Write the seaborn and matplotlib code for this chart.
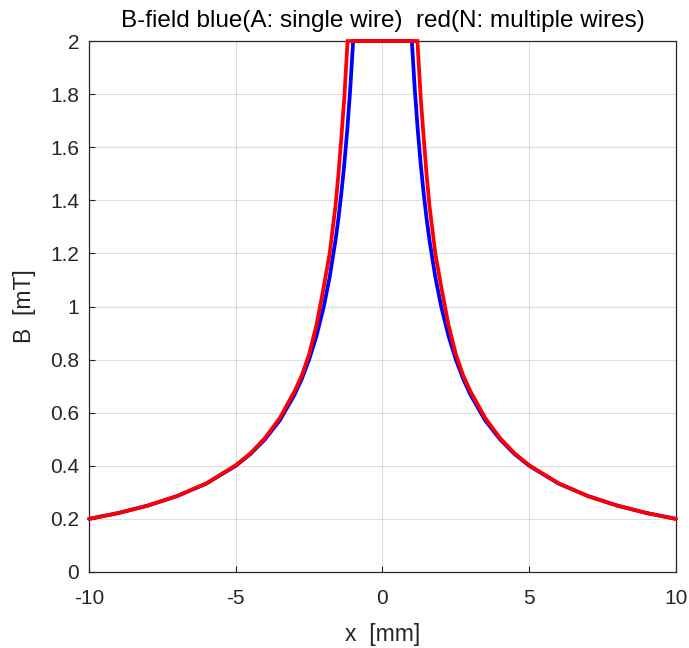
import matplotlib
matplotlib.use("Agg")
import matplotlib.pyplot as plt
import seaborn as sns
import pandas as pd

# Values
x_blue = [-10, -9, -8, -7, -6, -5, -4.5, -4, -3.5, -3, -2.75, -2.5, -2.25, -2, -1.8, -1.6, -1.5, -1.4, -1.3, -1.2, -1.1, -1.0,
          0,
          1.0, 1.1, 1.2, 1.3, 1.4, 1.5, 1.6, 1.8, 2, 2.25, 2.5, 2.75, 3, 3.5, 4, 4.5, 5, 6, 7, 8, 9, 10]
b_blue = [0.2, 0.222, 0.25, 0.286, 0.333, 0.4, 0.444, 0.5, 0.571, 0.667, 0.727, 0.8, 0.889, 1.0, 1.111, 1.25, 1.333, 1.429, 1.538, 1.667, 1.818, 2.0,
          2.0,
          2.0, 1.818, 1.667, 1.538, 1.429, 1.333, 1.25, 1.111, 1.0, 0.889, 0.8, 0.727, 0.667, 0.571, 0.5, 0.444, 0.4, 0.333, 0.286, 0.25, 0.222, 0.2]

x_red = [-10, -9, -8, -7, -6, -5, -4.5, -4, -3.5, -3, -2.75, -2.5, -2.25, -2, -1.8, -1.6, -1.5, -1.4, -1.3, -1.19,
         0,
         1.19, 1.3, 1.4, 1.5, 1.6, 1.8, 2, 2.25, 2.5, 2.75, 3, 3.5, 4, 4.5, 5, 6, 7, 8, 9, 10]
b_red = [0.2, 0.222, 0.25, 0.286, 0.334, 0.402, 0.447, 0.505, 0.58, 0.68, 0.74, 0.82, 0.93, 1.075, 1.2, 1.38, 1.5, 1.64, 1.79, 2.0,
         2.0,
         2.0, 1.79, 1.64, 1.5, 1.38, 1.2, 1.075, 0.93, 0.82, 0.74, 0.68, 0.58, 0.505, 0.447, 0.402, 0.334, 0.286, 0.25, 0.222, 0.2]

x_ticks = [-10, -5, 0, 5, 10]
y_ticks = [0, 0.2, 0.4, 0.6, 0.8, 1.0, 1.2, 1.4, 1.6, 1.8, 2.0]
y_ticklabels = ["0", "0.2", "0.4", "0.6", "0.8", "1", "1.2", "1.4", "1.6", "1.8", "2"]

title = "B-field blue(A: single wire)  red(N: multiple wires)"

df = pd.concat([
    pd.DataFrame({"x": x_blue, "B": b_blue, "s": "A"}),
    pd.DataFrame({"x": x_red, "B": b_red, "s": "N"}),
], ignore_index=True)

sns.set_theme(style="white")
plt.rcParams["font.family"] = ["Liberation Sans", "DejaVu Sans"]
txt = "#262626"

fig = plt.figure(figsize=(6.89, 6.48), dpi=100)
ax = fig.add_axes([0.1292, 0.1173, 0.8519, 0.8194])

sns.lineplot(data=df, x="x", y="B", hue="s", palette={"A": "#0000ff", "N": "#ff0000"},
             estimator=None, sort=False, linewidth=2.7, legend=False, ax=ax)
for ln in ax.get_lines():
    ln.set_clip_on(False)
    ln.set_zorder(5)
    ln.set_solid_joinstyle("miter")

ax.set_xlim(-10, 10)
ax.set_ylim(0, 2)
ax.set_xticks(x_ticks)
ax.set_xticklabels([str(t) for t in x_ticks])
ax.set_yticks(y_ticks)
ax.set_yticklabels(y_ticklabels)
ax.grid(True, color="#000000", alpha=0.13, linewidth=0.8)
ax.tick_params(axis="both", direction="in", length=4, width=0.8, colors=txt,
               labelsize=15, top=False, right=False, bottom=True, left=True, labelcolor=txt)
ax.tick_params(axis="x", pad=12)
ax.tick_params(axis="y", pad=7)
for sp in ax.spines.values():
    sp.set_color(txt)
    sp.set_linewidth(0.9)
    sp.set_visible(True)
    sp.set_zorder(4)

ax.set_xlabel("x  [mm]", fontsize=16.5, color=txt, labelpad=11)
ax.set_ylabel("B  [mT]", fontsize=16.5, color=txt, labelpad=10)
ax.set_title(title, fontsize=17.5, color="#000000", pad=10)

fig.savefig("out.png", dpi=100)
